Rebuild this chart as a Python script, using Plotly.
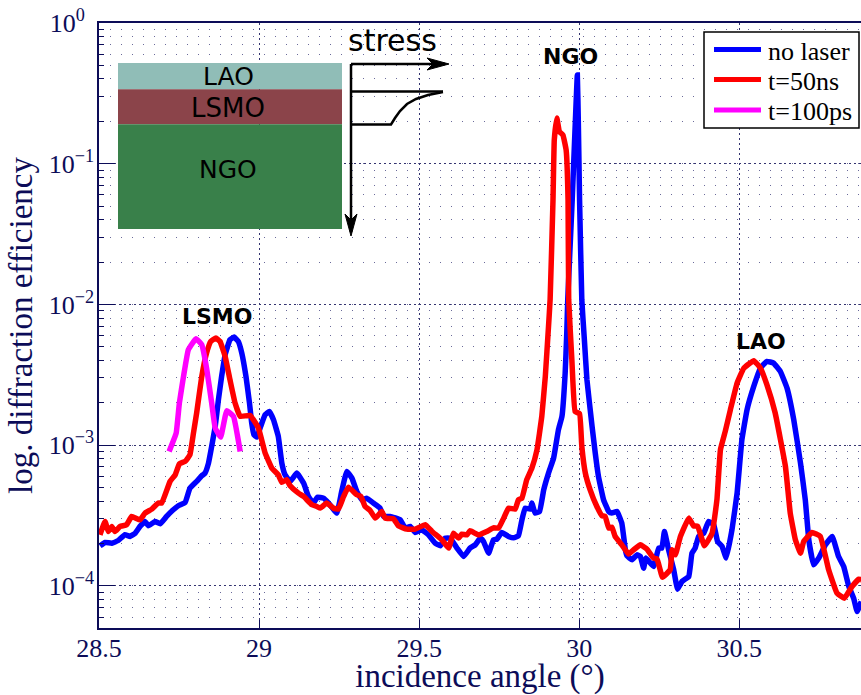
import plotly.graph_objects as go

# incidence angle (deg) and log10 of diffraction efficiency
blue_x = [28.503,28.519,28.540,28.560,28.581,28.597,28.613,28.628,28.644,28.654,28.675,28.691,28.711,28.732,28.748,28.769,28.784,28.805,28.821,28.831,28.842,28.852,28.863,28.873,28.883,28.894,28.909,28.922,28.935,28.946,28.959,28.970,28.977,28.984,28.993,29.005,29.019,29.032,29.045,29.060,29.071,29.081,29.097,29.118,29.139,29.154,29.170,29.182,29.201,29.217,29.243,29.258,29.274,29.290,29.305,29.321,29.336,29.357,29.378,29.389,29.409,29.441,29.456,29.472,29.488,29.508,29.529,29.550,29.566,29.581,29.597,29.618,29.639,29.659,29.675,29.691,29.701,29.717,29.732,29.743,29.758,29.779,29.795,29.810,29.821,29.831,29.847,29.852,29.862,29.876,29.889,29.904,29.920,29.935,29.946,29.956,29.961,29.964,29.978,29.988,29.994,29.997,30.001,30.008,30.016,30.024,30.040,30.050,30.060,30.076,30.092,30.102,30.118,30.133,30.144,30.149,30.165,30.180,30.191,30.201,30.208,30.232,30.248,30.258,30.266,30.279,30.295,30.307,30.321,30.342,30.352,30.362,30.373,30.389,30.404,30.420,30.432,30.446,30.459,30.477,30.493,30.508,30.524,30.545,30.566,30.586,30.607,30.628,30.649,30.670,30.691,30.706,30.717,30.732,30.748,30.769,30.790,30.810,30.826,30.842,30.857,30.868,30.881]
blue_log = [-3.716,-3.692,-3.697,-3.678,-3.637,-3.649,-3.626,-3.578,-3.543,-3.574,-3.543,-3.559,-3.507,-3.460,-3.431,-3.408,-3.306,-3.258,-3.218,-3.199,-3.128,-3.009,-2.867,-2.678,-2.512,-2.358,-2.251,-2.232,-2.263,-2.346,-2.512,-2.701,-2.844,-2.927,-2.943,-2.867,-2.784,-2.761,-2.820,-2.938,-3.128,-3.211,-3.258,-3.199,-3.270,-3.365,-3.412,-3.370,-3.377,-3.412,-3.483,-3.329,-3.187,-3.235,-3.329,-3.389,-3.377,-3.412,-3.448,-3.507,-3.507,-3.531,-3.590,-3.578,-3.621,-3.602,-3.638,-3.697,-3.716,-3.661,-3.661,-3.732,-3.792,-3.732,-3.709,-3.661,-3.685,-3.768,-3.673,-3.668,-3.621,-3.649,-3.659,-3.645,-3.531,-3.448,-3.455,-3.412,-3.483,-3.472,-3.318,-3.199,-3.092,-2.891,-2.796,-2.488,-2.204,-1.967,-1.258,-0.689,-0.369,-0.689,-1.258,-1.967,-2.251,-2.535,-2.867,-3.057,-3.223,-3.389,-3.472,-3.483,-3.472,-3.555,-3.744,-3.787,-3.815,-3.780,-3.792,-3.875,-3.803,-3.863,-3.732,-3.732,-3.614,-3.744,-3.886,-4.024,-3.969,-3.934,-3.768,-3.732,-3.649,-3.626,-3.543,-3.566,-3.685,-3.720,-3.803,-3.602,-3.341,-2.962,-2.749,-2.583,-2.453,-2.405,-2.417,-2.476,-2.595,-2.820,-3.128,-3.389,-3.673,-3.851,-3.803,-3.709,-3.649,-3.792,-3.863,-4.005,-4.088,-4.183,-4.112]

red_x = [28.503,28.519,28.529,28.540,28.550,28.566,28.586,28.602,28.628,28.644,28.665,28.685,28.696,28.722,28.738,28.751,28.769,28.784,28.795,28.805,28.821,28.836,28.849,28.865,28.878,28.894,28.909,28.925,28.941,28.972,28.998,29.019,29.040,29.060,29.071,29.086,29.097,29.123,29.139,29.165,29.180,29.191,29.211,29.232,29.248,29.264,29.279,29.305,29.318,29.331,29.347,29.363,29.383,29.394,29.420,29.435,29.461,29.488,29.519,29.540,29.571,29.592,29.607,29.623,29.633,29.649,29.659,29.685,29.711,29.732,29.748,29.764,29.779,29.800,29.810,29.821,29.836,29.852,29.868,29.883,29.894,29.904,29.909,29.918,29.922,29.930,29.938,29.949,29.959,29.965,29.967,29.977,29.987,30.001,30.008,30.019,30.034,30.055,30.071,30.081,30.092,30.102,30.112,30.133,30.154,30.170,30.191,30.211,30.232,30.243,30.260,30.284,30.290,30.300,30.316,30.342,30.357,30.370,30.391,30.415,30.430,30.441,30.456,30.472,30.493,30.514,30.545,30.566,30.586,30.612,30.644,30.659,30.675,30.691,30.701,30.727,30.753,30.779,30.805,30.828,30.852,30.873,30.881]
red_log = [-3.638,-3.543,-3.614,-3.578,-3.614,-3.578,-3.566,-3.507,-3.531,-3.483,-3.455,-3.412,-3.412,-3.258,-3.211,-3.133,-3.116,-3.069,-2.915,-2.772,-2.512,-2.346,-2.263,-2.239,-2.263,-2.370,-2.535,-2.701,-2.796,-2.789,-2.879,-3.057,-3.164,-3.211,-3.265,-3.246,-3.289,-3.341,-3.365,-3.424,-3.436,-3.448,-3.412,-3.448,-3.455,-3.365,-3.299,-3.353,-3.365,-3.436,-3.465,-3.519,-3.472,-3.519,-3.524,-3.574,-3.597,-3.597,-3.566,-3.614,-3.673,-3.732,-3.626,-3.661,-3.633,-3.638,-3.609,-3.638,-3.614,-3.588,-3.590,-3.519,-3.448,-3.455,-3.389,-3.377,-3.246,-3.164,-3.033,-2.796,-2.512,-2.156,-1.967,-1.258,-0.831,-0.675,-0.772,-0.796,-0.902,-1.258,-1.967,-2.398,-2.761,-2.777,-3.009,-3.199,-3.318,-3.436,-3.502,-3.507,-3.590,-3.583,-3.649,-3.709,-3.775,-3.744,-3.709,-3.739,-3.803,-3.810,-3.939,-3.886,-3.744,-3.780,-3.649,-3.519,-3.574,-3.578,-3.716,-3.626,-3.389,-3.033,-2.903,-2.749,-2.559,-2.453,-2.400,-2.453,-2.571,-2.772,-3.152,-3.483,-3.673,-3.768,-3.685,-3.621,-3.649,-3.886,-4.052,-4.088,-4.005,-3.953,-3.957]

magenta_x = [28.719,28.741,28.751,28.764,28.779,28.803,28.821,28.836,28.852,28.863,28.880,28.899,28.920,28.941]
magenta_log = [-3.045,-2.915,-2.701,-2.512,-2.322,-2.244,-2.287,-2.453,-2.701,-2.879,-2.943,-2.756,-2.796,-3.045]

series_names = ["no laser", "t=50ns", "t=100ps"]
series_colors = ["#0000ff", "#ff0000", "#ff00ff"]
x_ticks = [28.5, 29, 29.5, 30, 30.5]
x_tick_labels = ["28.5", "29", "29.5", "30", "30.5"]
y_ticks = [1, 0.1, 0.01, 0.001, 0.0001]
y_tick_labels = ["10<sup>0\u00a0\u00a0</sup>", "10<sup>\u22121</sup>", "10<sup>\u22122</sup>", "10<sup>\u22123</sup>", "10<sup>\u22124</sup>"]
peak_labels = ["NGO", "LSMO", "LAO"]
layer_labels = ["LAO", "LSMO", "NGO"]

W, H = 861, 695
L, R, T, B = 99, 861, 23, 628
NAVY = "#0c0c58"
SERIF = "Liberation Serif"
SANS = "DejaVu Sans"

def px(v):
    return (v - L) / (R - L)

def py(v):
    return (B - v) / (B - T)

def path(points, close=False):
    d = "M" + " L".join(f"{px(a):.5f},{py(b):.5f}" for a, b in points)
    return d + (" Z" if close else "")

fig = go.Figure()
for name, xs, logs, col in zip(series_names, [blue_x, red_x, magenta_x], [blue_log, red_log, magenta_log], series_colors):
    fig.add_trace(go.Scatter(x=xs, y=[10 ** v for v in logs], mode="lines", name=name, showlegend=False,
                             line=dict(color=col, width=5.5, shape="spline", smoothing=0.3)))

shapes = []
for y0, y1, col in [(63, 89.3, "#90bdb7"), (89.3, 124.3, "#8b444a"), (124.3, 229, "#39804a")]:
    shapes.append(dict(type="rect", xref="paper", yref="paper", x0=px(118), x1=px(342),
                       y0=py(y1), y1=py(y0), fillcolor=col, line_width=0, layer="above"))
for pts in [
    [(351, 64), (351, 232)],
    [(351, 64), (445, 64)],
    [(351, 91.5), (443, 91.5)],
    [(351, 124.5), (391, 124.5), (395, 118), (400, 111), (407, 104), (416, 99), (428, 95), (443, 92)],
]:
    shapes.append(dict(type="path", xref="paper", yref="paper", path=path(pts),
                       line=dict(color="black", width=2.5), layer="above"))
for pts in [
    [(351, 236), (345, 214), (351, 220), (357, 214)],
    [(449, 64), (427, 58), (433, 64), (427, 70)],
]:
    shapes.append(dict(type="path", xref="paper", yref="paper", path=path(pts, True),
                       fillcolor="black", line=dict(color="black", width=1), layer="above"))

annotations = []
for text, cx, cy in [(peak_labels[0], 570, 56), (peak_labels[1], 217, 316), (peak_labels[2], 761, 341)]:
    annotations.append(dict(text=f"<b>{text}</b>", xref="paper", yref="paper", x=px(cx), y=py(cy),
                            xanchor="center", yanchor="middle", showarrow=False,
                            font=dict(family=SANS, size=22, color="black")))
for text, cx, cy, size in [(layer_labels[0], 228, 76, 25), (layer_labels[1], 228, 108, 26),
                           (layer_labels[2], 228, 169, 25), ("stress", 392, 41, 30)]:
    annotations.append(dict(text=text, xref="paper", yref="paper", x=px(cx), y=py(cy),
                            xanchor="center", yanchor="middle", showarrow=False,
                            font=dict(family=SANS, size=size, color="black")))

# legend box drawn to the reference's exact spacing
shapes.append(dict(type="rect", xref="paper", yref="paper", x0=px(704), x1=px(859), y0=py(128), y1=py(32),
                   fillcolor="white", line=dict(color="black", width=1.5), layer="above"))
for name, col, yc in zip(series_names, series_colors, [49.5, 79.5, 110]):
    shapes.append(dict(type="line", xref="paper", yref="paper", x0=px(714), x1=px(761), y0=py(yc), y1=py(yc),
                       line=dict(color=col, width=5), layer="above"))
    annotations.append(dict(text=name, xref="paper", yref="paper", x=px(767), y=py(yc + 1.5),
                            xanchor="left", yanchor="middle", showarrow=False, xshift=-1,
                            font=dict(family=SERIF, size=26, color="black")))

fig.update_layout(
    width=W, height=H, margin=dict(l=L, r=W - R, t=T, b=H - B, pad=0, autoexpand=False),
    paper_bgcolor="white", plot_bgcolor="white", shapes=shapes, annotations=annotations,
    showlegend=False, font=dict(family=SERIF, color=NAVY, size=26),
    xaxis=dict(range=[28.5, 30.88], tickvals=x_ticks, ticktext=x_tick_labels, ticks="inside", ticklen=8,
               tickcolor=NAVY, showline=True, mirror=True, linecolor=NAVY, linewidth=1.5,
               showgrid=True, gridcolor="#33336f", griddash="2px,3px", gridwidth=1, zeroline=False,
               ticklabelstandoff=-4,
               tickfont=dict(family=SERIF, size=26, color=NAVY),
               title=dict(text="incidence angle (°)", standoff=11, font=dict(family=SERIF, size=33, color=NAVY))),
    yaxis=dict(type="log", range=[-4.3, 0], tickvals=y_ticks, ticktext=y_tick_labels, ticks="inside", ticklen=16,
               tickcolor=NAVY, showline=True, mirror=True, linecolor=NAVY, linewidth=1.5,
               showgrid=True, gridcolor="#33336f", griddash="2px,3px", gridwidth=1, zeroline=False,
               ticklabelstandoff=-2,
               minor=dict(showgrid=True, dtick="D1", gridcolor="#6a6a9a", griddash="1px,10px", gridwidth=1,
                          ticks="inside", ticklen=5, tickcolor=NAVY),
               tickfont=dict(family=SERIF, size=26, color=NAVY),
               title=dict(text="log. diffraction efficiency", standoff=6, font=dict(family=SERIF, size=33, color=NAVY))),
)
fig.write_html("out.html", config=dict(displayModeBar=False),
               post_script="document.body.style.margin='0';document.documentElement.style.overflow='hidden';")
